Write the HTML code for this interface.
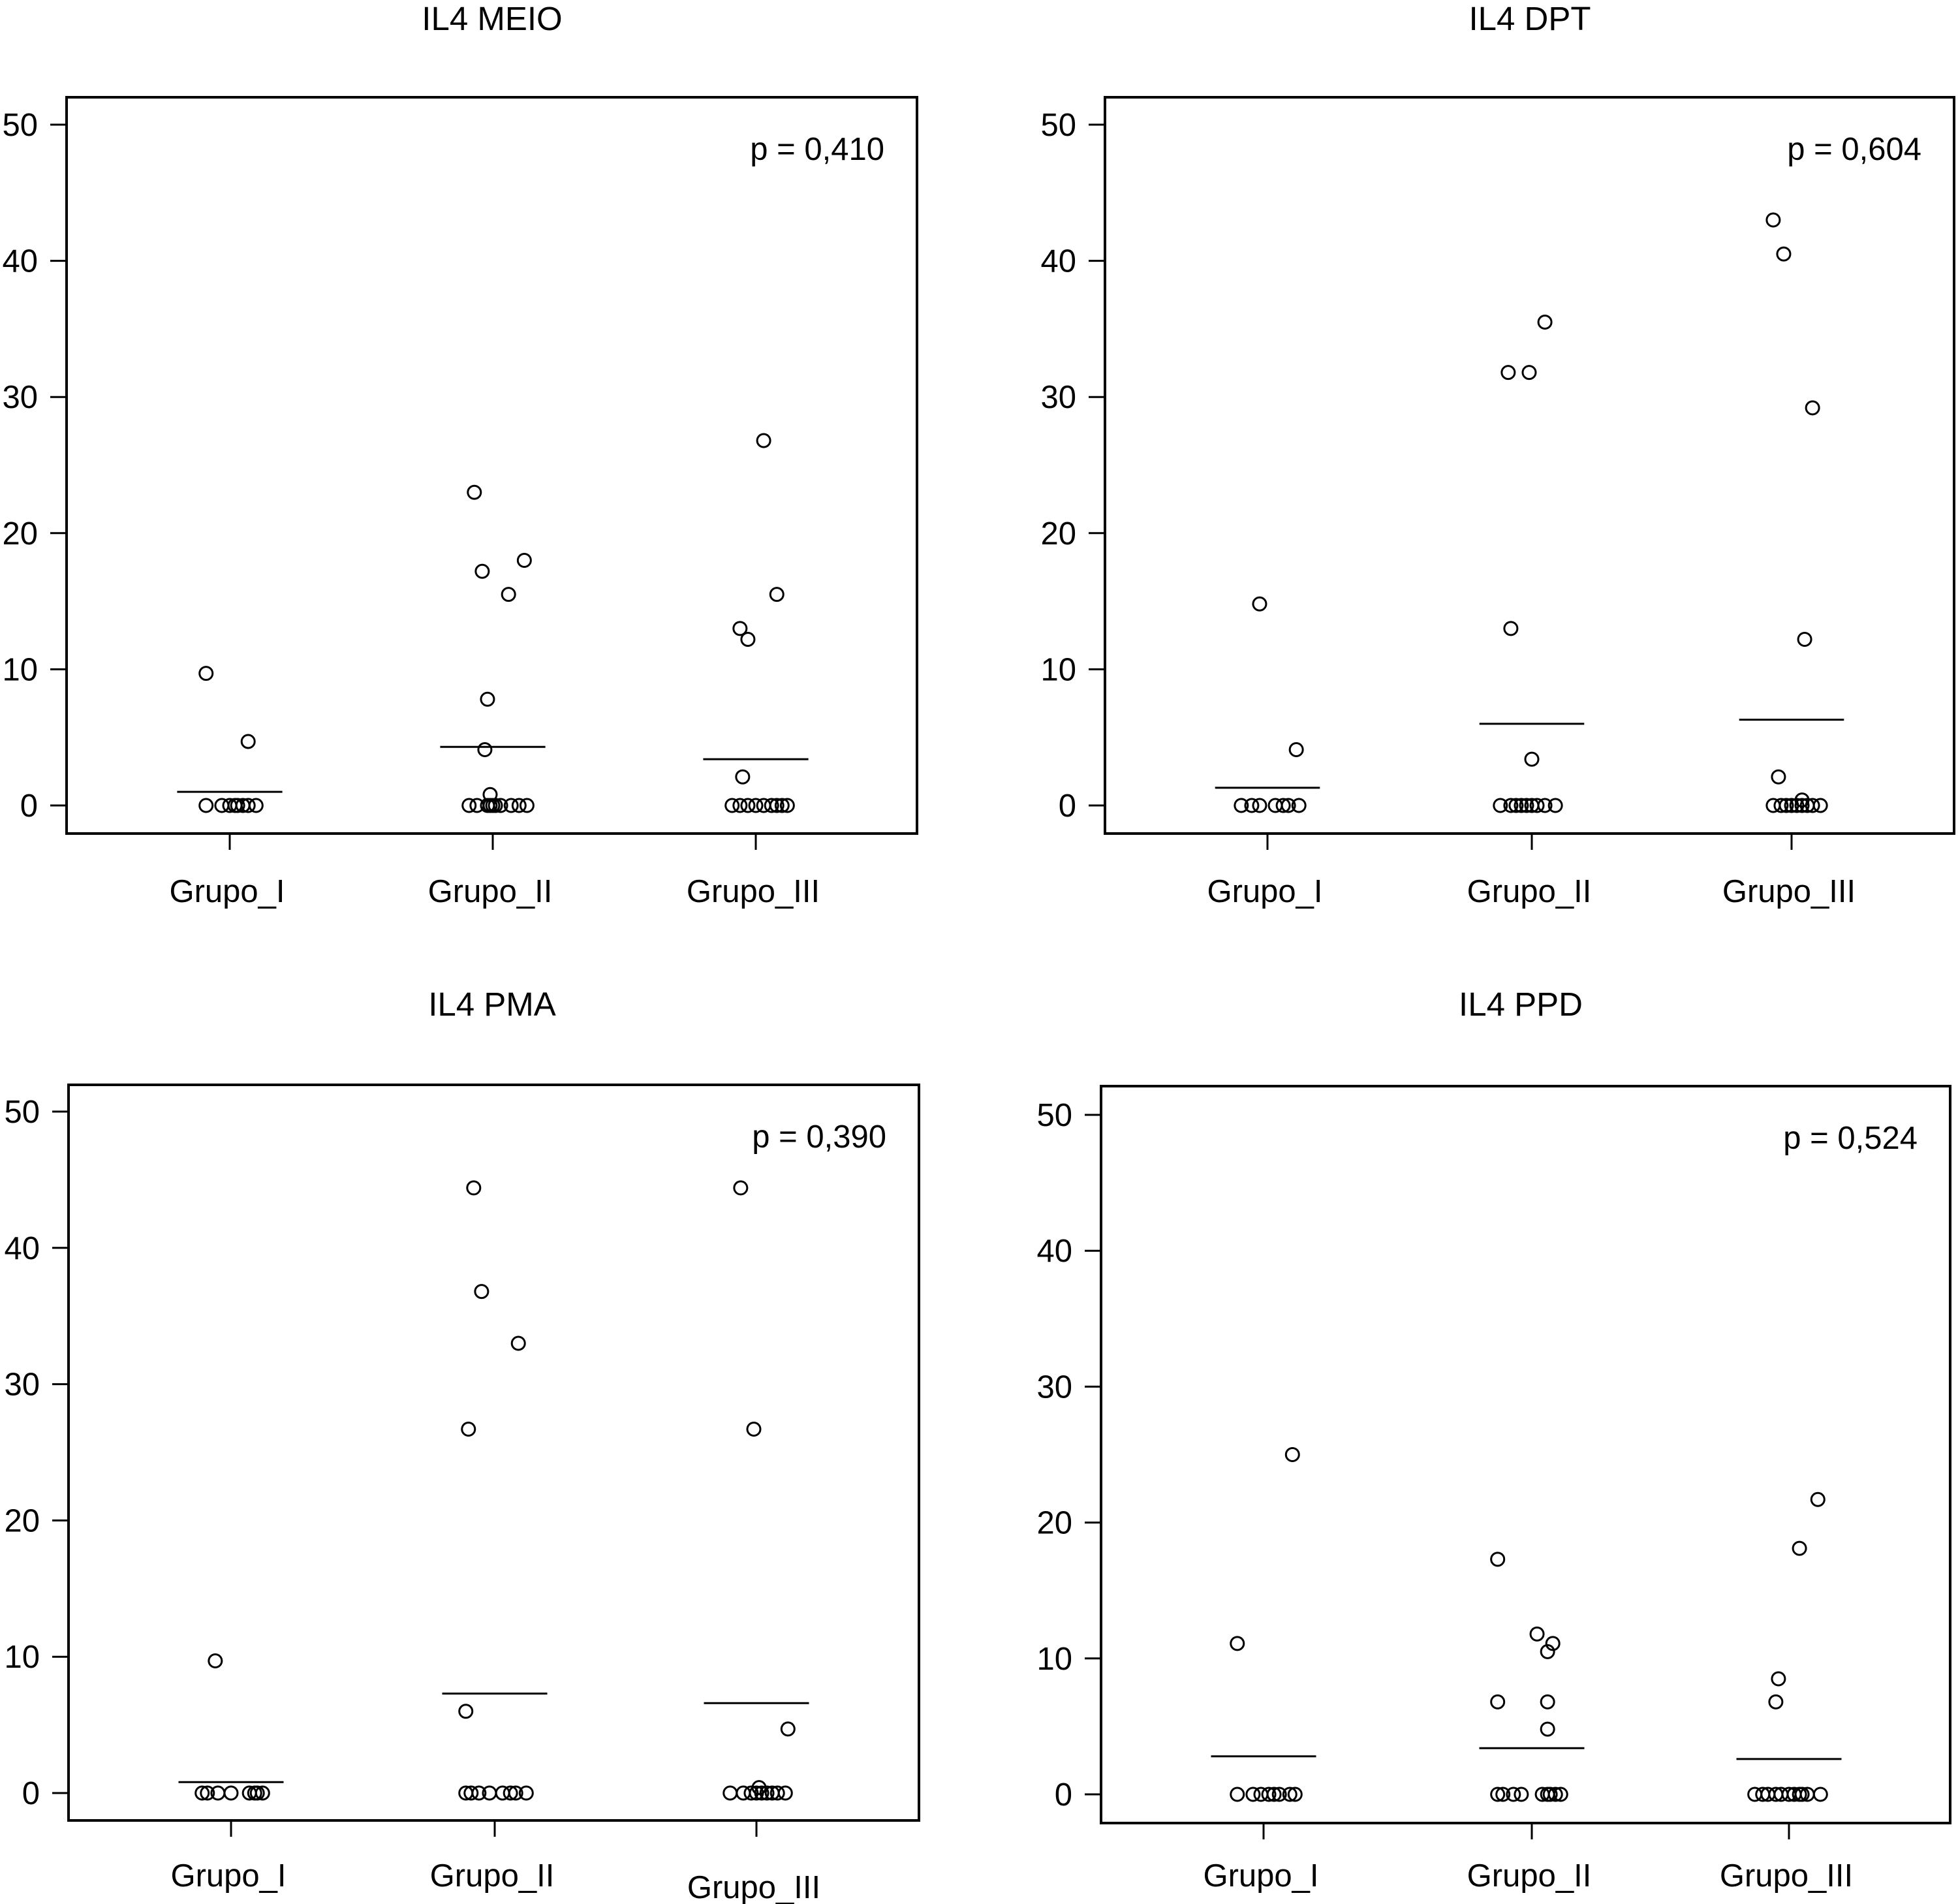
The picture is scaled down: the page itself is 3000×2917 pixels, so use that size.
<!DOCTYPE html>
<html><head><meta charset="utf-8"><style>
html,body{margin:0;padding:0;background:#fff;}
svg{display:block;font-family:"Liberation Sans",Arial,sans-serif;}
</style></head><body>
<svg id="chart" width="3000" height="2917" viewBox="0 0 3000 2917" xmlns="http://www.w3.org/2000/svg"></svg>
<script>
// ---- data ----
const categories = ["Grupo_I","Grupo_II","Grupo_III"];
const yTicks = [0,10,20,30,40,50];
const titles = ["IL4 MEIO","IL4 DPT","IL4 PMA","IL4 PPD"];
const pValues = ["p = 0,410","p = 0,604","p = 0,390","p = 0,524"];
// medians per panel per group
const medians = [[1.0,4.3,3.4],[1.3,6.0,6.3],[0.8,7.3,6.6],[2.8,3.4,2.6]];
// values per panel per group (non-zero points)
const values = [
 [[9.7,4.7],[23,17.2,18,15.5,7.8,4.1,0.8],[26.8,13,12.2,15.5,2.1]],
 [[14.8,4.1],[31.8,31.8,35.5,13,3.4],[43,40.5,29.2,12.2,2.1,0.4]],
 [[9.7],[44.4,36.8,33,26.7,6],[44.4,26.7,4.7,0.4]],
 [[25,11.1],[17.3,11.8,11.1,10.5,6.8,6.8,4.8],[21.7,18.1,8.5,6.8]]
];
// horizontal jitter (category units) for the points above
const jitter = [
 [[-0.09,0.07],[-0.07,-0.04,0.12,0.06,-0.02,-0.03,-0.01],[0.03,-0.06,-0.03,0.08,-0.05]],
 [[-0.03,0.11],[-0.09,-0.01,0.05,-0.08,0.0],[-0.07,-0.03,0.08,0.05,-0.05,0.04]],
 [[-0.06],[-0.08,-0.05,0.09,-0.1,-0.11],[-0.06,-0.01,0.12,0.01]],
 [[0.11,-0.1],[-0.13,0.02,0.08,0.06,-0.13,0.06,0.06],[0.11,0.04,-0.04,-0.05]]
];
// jitter of zero-valued points
const zeroJitter = [
 [[-0.09,-0.03,0.0,0.02,0.03,0.05,0.07,0.1],[-0.09,-0.06,-0.02,-0.01,0.0,0.01,0.03,0.07,0.1,0.13],[-0.09,-0.06,-0.03,0.0,0.03,0.06,0.08,0.1,0.12]],
 [[-0.1,-0.06,-0.03,0.03,0.06,0.08,0.12],[-0.12,-0.08,-0.06,-0.04,-0.02,0.0,0.02,0.05,0.09],[-0.07,-0.04,-0.02,0.0,0.02,0.04,0.06,0.08,0.11]],
 [[-0.11,-0.09,-0.05,0.0,0.07,0.09,0.1,0.12],[-0.11,-0.09,-0.06,-0.02,0.03,0.06,0.08,0.12],[-0.1,-0.05,-0.02,0.0,0.02,0.04,0.06,0.08,0.11]],
 [[-0.1,-0.04,-0.01,0.02,0.04,0.06,0.1,0.12],[-0.13,-0.11,-0.07,-0.04,0.04,0.06,0.07,0.09,0.11],[-0.13,-0.1,-0.08,-0.05,-0.03,0.0,0.02,0.04,0.05,0.07,0.12]]
];
// ---- layout ----
const panels = [
 {l:102,r:1405,t:149,b:1277,y0:1234,y50:191,cx:[352,755,1158],title:[754,46],lab:1382,lab3:1382},
 {l:1693,r:2994,t:149,b:1277,y0:1234,y50:191,cx:[1942,2347,2745],title:[2344,46],lab:1382,lab3:1382},
 {l:105,r:1408,t:1662,b:2789,y0:2747,y50:1703,cx:[354,758,1159],title:[754,1556],lab:2890,lab3:2908},
 {l:1687,r:2988,t:1664,b:2793,y0:2749,y50:1708,cx:[1936,2347,2741],title:[2330,1556],lab:2890,lab3:2890}
];
const NS="http://www.w3.org/2000/svg";
const svg=document.getElementById('chart');
function mk(tag,attrs,parent){const e=document.createElementNS(NS,tag);for(const k in attrs)e.setAttribute(k,attrs[k]);(parent||svg).appendChild(e);return e;}
panels.forEach((p,pi)=>{
  const g=mk('g',{});
  
  
  const yS=v=>p.y0+(p.y50-p.y0)*v/50;
  const step=(p.cx[2]-p.cx[0])/2;
  const xS=(ci,j)=>p.cx[ci]+j*step;
  const t=mk('text',{x:p.title[0],y:p.title[1],'text-anchor':'middle','font-size':51},g);
  t.textContent=titles[pi];
  
  
  const box=mk('rect',{x:p.l,y:p.t,width:p.r-p.l,height:p.b-p.t,fill:'none',stroke:'#000','stroke-width':4},g);
  
  
  yTicks.forEach(v=>{
    const y=yS(v);
    const tk=mk('line',{x1:p.l-25,x2:p.l,y1:y,y2:y,stroke:'#000','stroke-width':3},g);
    
    
    const tl=mk('text',{x:p.l-44,y:y+17,'text-anchor':'end','font-size':49},g);
    tl.textContent=v;
    
    
  });
  categories.forEach((c,ci)=>{
    const x=p.cx[ci];
    const tk=mk('line',{x1:x,x2:x,y1:p.b,y2:p.b+25,stroke:'#000','stroke-width':3},g);
    
    
    const tl=mk('text',{x:x-4,y:ci==2?p.lab3:p.lab,'text-anchor':'middle','font-size':49},g);
    tl.textContent=c;
    
    
    const my=yS(medians[pi][ci]);
    const ml=mk('line',{x1:x-0.2*step,x2:x+0.2*step,y1:my,y2:my,stroke:'#000','stroke-width':3},g);
    
    
    values[pi][ci].forEach((v,k)=>{
      const pt=mk('circle',{cx:xS(ci,jitter[pi][ci][k]),cy:yS(v),r:10,fill:'none',stroke:'#000','stroke-width':3},g);
      
      
    });
    zeroJitter[pi][ci].forEach(j=>{
      const pt=mk('circle',{cx:xS(ci,j),cy:yS(0),r:10,fill:'none',stroke:'#000','stroke-width':3},g);
      
      
    });
  });
  const pv=mk('text',{x:p.r-50,y:p.t+96,'text-anchor':'end','font-size':49},g);
  pv.textContent=pValues[pi];
  
  
});
</script>
</body></html>
